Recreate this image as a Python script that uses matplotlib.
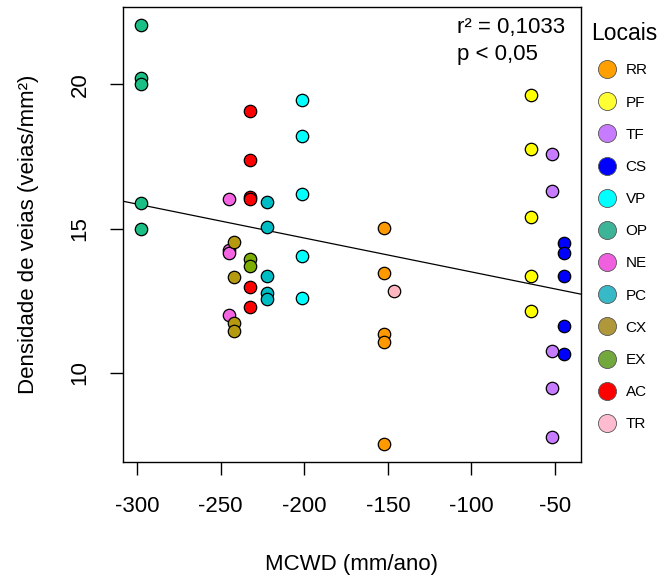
import numpy as np
import matplotlib
matplotlib.use("Agg")
import matplotlib.pyplot as plt
from matplotlib.lines import Line2D

plt.rcParams["font.family"] = ["Liberation Sans", "DejaVu Sans"]
plt.rcParams["axes.unicode_minus"] = False

# -----------------------------
# Data
# -----------------------------
sites = ["RR", "PF", "TF", "CS", "VP", "OP", "NE", "PC", "CX", "EX", "AC", "TR"]
site_colors = ["#FF9900", "#FFFF00", "#C77CFF", "#0000FF", "#00FFFF", "#19BF85",
               "#F564E3", "#00BCC4", "#B59A10", "#7CAE00", "#FF0000", "#FFB6C1"]
legend_colors = ["#FF9F00", "#FFFF33", "#C77CFF", "#0000FF", "#00FFFF", "#3DB497",
                 "#F05FDD", "#38B9C7", "#B0973A", "#72A83C", "#FF0000", "#FFBBCF"]

mcwd = {"RR": -152.5, "PF": -64.3, "TF": -52.0, "CS": -44.9, "VP": -201.4, "OP": -297.6,
        "NE": -244.7, "PC": -222.3, "CX": -241.9, "EX": -232.3, "AC": -232.3, "TR": -146.5}

rr = [15.01, 13.48, 11.34, 11.06, 7.53]
pf = [19.63, 17.75, 15.40, 13.37, 12.15]
tf = [17.59, 16.30, 10.76, 9.47, 7.77]
cs = [14.51, 14.17, 13.37, 11.63, 10.65]
vp = [19.44, 18.21, 16.20, 14.05, 12.61]
op = [22.06, 20.21, 20.01, 15.90, 14.98]
ne = [16.03, 14.26, 14.15, 12.01]
pc = [15.94, 15.07, 13.37, 12.76, 12.55]
cx = [14.55, 13.34, 11.74, 11.46]
ex = [13.95, 13.72]
ac = [19.08, 17.38, 16.10, 16.02, 12.97, 12.30]
tr = [12.85]
density = {"RR": rr, "PF": pf, "TF": tf, "CS": cs, "VP": vp, "OP": op,
           "NE": ne, "PC": pc, "CX": cx, "EX": ex, "AC": ac, "TR": tr}

r2_text = "r² = 0,1033"
p_text = "p < 0,05"

# -----------------------------
# Plot
# -----------------------------
fig = plt.figure(figsize=(6.62, 5.81), dpi=100)
ax = fig.add_axes([0.186, 0.205, 0.691, 0.783])

all_x, all_y = [], []
for s, c in zip(sites, site_colors):
    ys = density[s]
    xs = [mcwd[s]] * len(ys)
    all_x += xs
    all_y += ys
    ax.scatter(xs, ys, s=80, c=c, edgecolors="black", linewidths=0.9, zorder=3)

# regression line (lm fit)
b, a = np.polyfit(all_x, all_y, 1)
xlim = (-308.2, -34.8)
xx = np.array(xlim)
ax.plot(xx, a + b * xx, color="black", lw=0.9, zorder=2)

ax.set_xlim(*xlim)
ax.set_ylim(6.92, 22.68)
ax.set_xticks([-300, -250, -200, -150, -100, -50])
ax.set_yticks([10, 15, 20])
ax.tick_params(direction="out", length=9.5, width=1, labelsize=16)
ax.tick_params(axis="x", pad=15)
ax.tick_params(axis="y", pad=14)
for lab in ax.get_yticklabels():
    lab.set_rotation(90)
    lab.set_va("center")
for sp in ax.spines.values():
    sp.set_linewidth(1)

ax.set_xlabel("MCWD (mm/ano)", fontsize=16, labelpad=27)
ax.set_ylabel("Densidade de veias (veias/mm²)", fontsize=16, labelpad=22)

ax.text(0.729, 0.954, r2_text, transform=ax.transAxes, fontsize=16, ha="left", va="center")
ax.text(0.729, 0.895, p_text, transform=ax.transAxes, fontsize=16, ha="left", va="center")

handles = [Line2D([], [], ls="none", marker="o", markersize=13, markerfacecolor=c,
                  markeredgecolor="#555555", markeredgewidth=0.6) for c in legend_colors]
leg = ax.legend(handles, sites, title="Locais", loc="upper left", bbox_to_anchor=(1.0, 0.99),
                frameon=False, fontsize=11, title_fontsize=16.5, labelspacing=1.19,
                handletextpad=0.25, borderaxespad=0.3)
leg._legend_box.align = "left"

fig.savefig("out.png", dpi=100)
